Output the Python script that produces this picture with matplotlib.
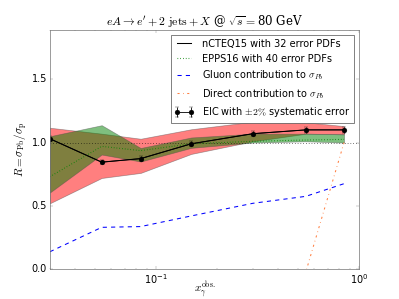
import numpy as np
import matplotlib
matplotlib.use("Agg")
import matplotlib.pyplot as plt

plt.style.use("classic")
plt.rcParams["font.size"] = 14

# x_gamma^obs bins
x = [0.030, 0.054, 0.084, 0.149, 0.30, 0.547, 0.843]

# nCTEQ15 central value (= EIC pseudo-data) and error band
ncteq = [1.03, 0.845, 0.873, 0.99, 1.07, 1.10, 1.10]
ncteq_up = [1.117, 1.07, 1.03, 1.105, 1.165, 1.16, 1.13]
ncteq_lo = [0.52, 0.72, 0.76, 0.91, 1.01, 1.07, 1.065]

# EPPS16 central value and error band
epps = [0.73, 0.97, 0.936, 0.99, 1.01, 1.02, 1.025]
epps_up = [1.05, 1.137, 0.957, 1.04, 1.07, 1.07, 1.065]
epps_lo = [0.605, 0.905, 0.85, 0.958, 1.0, 1.01, 1.0]

# contributions to sigma_Pb
gluon = [0.137, 0.33, 0.336, 0.42, 0.52, 0.575, 0.675]
direct = [-0.02, -0.02, -0.02, -0.02, -0.02, -0.02, 1.0]

eic_err = [0.02 * v for v in ncteq]

fig = plt.figure(figsize=(7.98, 5.98), dpi=50)
ax = fig.add_subplot(111)

ax.fill_between(x, ncteq_lo, ncteq_up, facecolor="red", alpha=0.5,
                edgecolor="0.3", linewidth=1)
ax.fill_between(x, epps_lo, epps_up, facecolor="green", alpha=0.5,
                edgecolor="0.3", linewidth=1)

ax.axhline(1.0, color="k", ls=":", lw=1)

ax.plot(x, ncteq, "k-", lw=1.5, label="nCTEQ15 with 32 error PDFs")
ax.plot(x, epps, color="green", ls=":", lw=1.6, label="EPPS16 with 40 error PDFs")
ax.plot(x, gluon, color="blue", ls="--", lw=1.5,
        label=r"Gluon contribution to $\sigma_{Pb}$")
ax.plot(x, direct, color="#ff7f40", ls="-.", lw=1.5,
        label=r"Direct contribution to $\sigma_{Pb}$")
ax.errorbar(x, ncteq, yerr=eic_err, fmt="o-", color="k", ms=7, capsize=3,
            lw=1.2, label=r"EIC with $\pm 2\%$ systematic error")

ax.set_xscale("log")
ax.set_xlim(0.03, 1.0)
ax.set_ylim(0.0, 1.89)
ax.set_yticks([0.0, 0.5, 1.0, 1.5])

ax.set_xlabel(r"$x_{\gamma}^{\rm obs.}$", fontsize=16, labelpad=-9)
ax.set_ylabel(r"$R = \sigma_{\rm Pb}/\sigma_{\rm p}$", fontsize=16, labelpad=2)
ax.set_title(r"$eA \rightarrow e^{\prime} + 2\ \mathrm{jets} + X$ @ $\sqrt{s} = $80 GeV",
             fontsize=17, family="serif")

for s in ax.spines.values():
    s.set_color("0.45")
ax.tick_params(which="both", color="0.45")

leg = ax.legend(loc="upper right", fontsize=14)
leg.get_frame().set_edgecolor("0.3")

fig.subplots_adjust(left=0.125, right=0.9, bottom=0.1, top=0.9)
fig.savefig("out.png", dpi=50)
